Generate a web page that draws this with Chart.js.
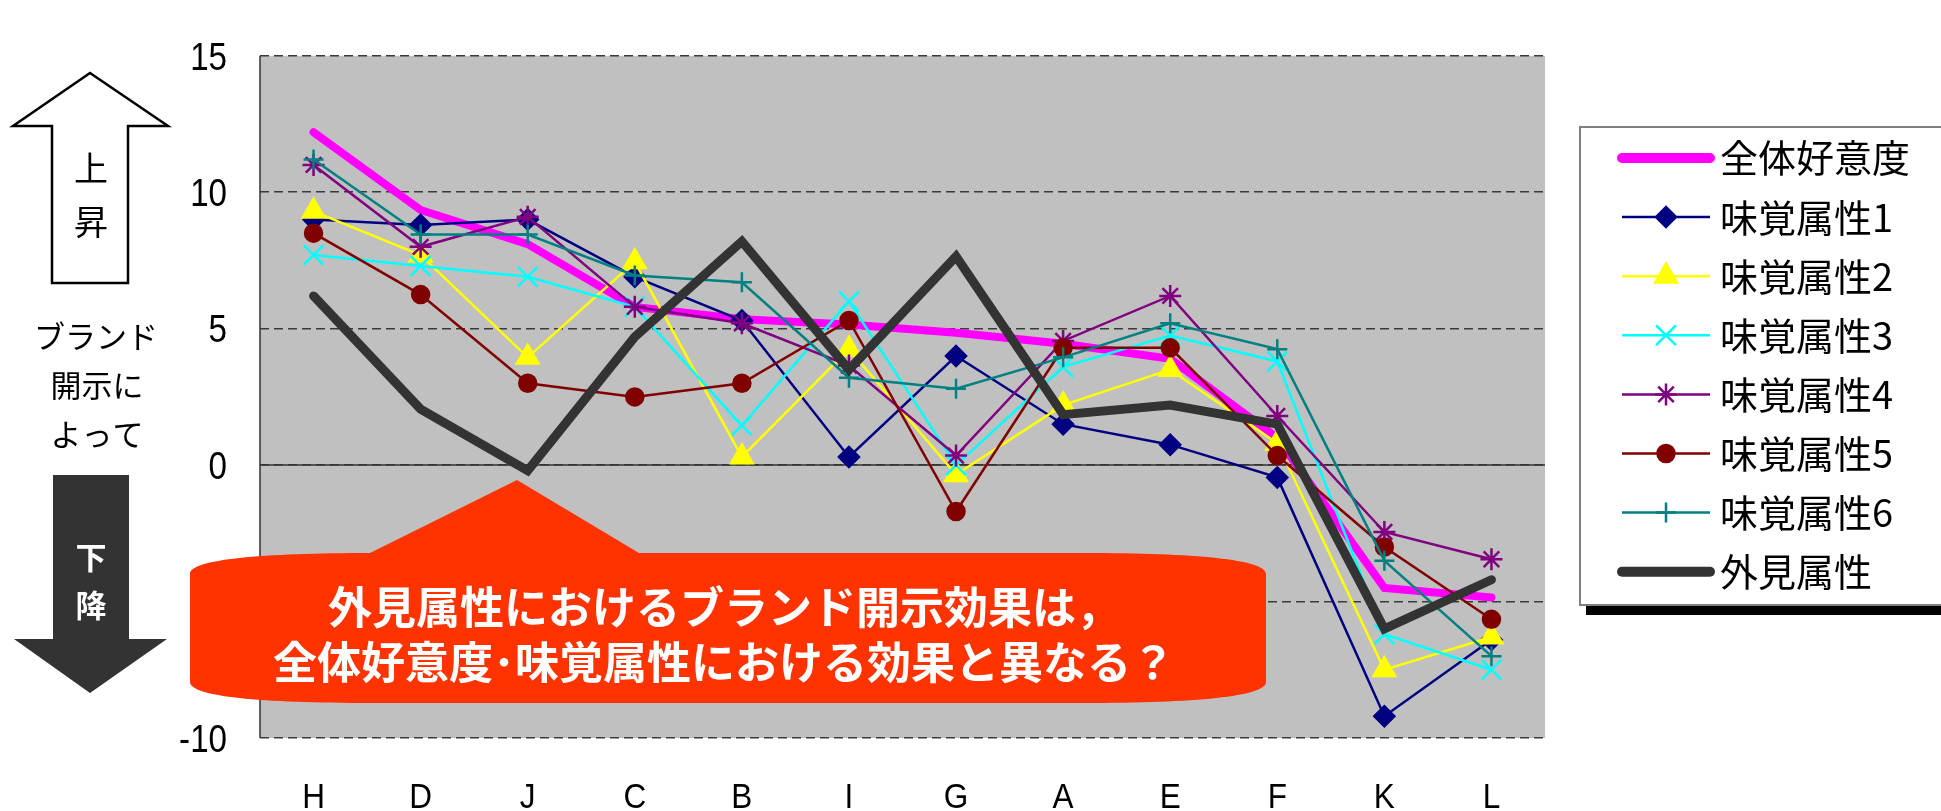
<!DOCTYPE html>
<html lang="ja">
<head>
<meta charset="utf-8">
<title>ブランド開示効果</title>
<script src="https://cdn.jsdelivr.net/npm/chart.js@4.4.1/dist/chart.umd.min.js"></script>
<style>
  html, body { margin: 0; padding: 0; background: #fff; }
  #wrap { width: 1941px; height: 811px; position: relative; }
</style>
</head>
<body>
<div id="wrap"><canvas id="chart" width="1941" height="811"></canvas></div>
<script>
// brands, ordered by overall liking change
const CATEGORIES = ['H', 'D', 'J', 'C', 'B', 'I', 'G', 'A', 'E', 'F', 'K', 'L'];

const OVERALL = [12.2, 9.35, 8.1, 5.8, 5.35, 5.15, 4.85, 4.45, 3.9, 1.0, -4.5, -4.85];
const TASTE_1 = [9.0, 8.8, 9.0, 6.9, 5.3, 0.3, 4.0, 1.5, 0.75, -0.45, -9.2, -6.4];
const TASTE_2 = [9.3, 7.7, 3.95, 7.45, 0.3, 4.25, -0.35, 2.2, 3.5, 0.8, -7.5, -6.3];
const TASTE_3 = [7.7, 7.3, 6.9, 5.8, 1.45, 6.0, 0.0, 3.6, 4.75, 3.8, -6.2, -7.5];
const TASTE_4 = [11.0, 8.0, 9.1, 5.8, 5.2, 3.65, 0.35, 4.55, 6.2, 1.8, -2.45, -3.45];
const TASTE_5 = [8.5, 6.25, 3.0, 2.5, 3.0, 5.3, -1.7, 4.3, 4.3, 0.35, -3.0, -5.65];
const TASTE_6 = [11.2, 8.45, 8.45, 6.95, 6.7, 3.2, 2.8, 3.95, 5.2, 4.25, -3.5, -7.0];
const APPEARANCE = [6.2, 2.05, -0.2, 4.7, 8.2, 3.5, 7.65, 1.85, 2.2, 1.5, -6.0, -4.2];

const Y_MIN = -10;
const Y_MAX = 15;
const Y_STEP = 5;

const NUM_FONT = '"Liberation Sans", Arial, sans-serif';
const JP_FONT = '"Noto Sans CJK JP", "Noto Sans", sans-serif';

// series look (Excel style markers)
const SERIES = [
    { label: '全体好意度', data: OVERALL, color: '#ff00ff', width: 8, marker: false },
    { label: '味覚属性1', data: TASTE_1, color: '#000080', width: 2.5, marker: 'rectRot', radius: 10 },
    { label: '味覚属性2', data: TASTE_2, color: '#ffff00', width: 2.5, marker: 'triangle', radius: 12.5 },
    { label: '味覚属性3', data: TASTE_3, color: '#00ffff', width: 2.5, marker: 'crossRot', radius: 14 },
    { label: '味覚属性4', data: TASTE_4, color: '#800080', width: 2.5, marker: 'star', radius: 11 },
    { label: '味覚属性5', data: TASTE_5, color: '#800000', width: 2.5, marker: 'circle', radius: 8.5 },
    { label: '味覚属性6', data: TASTE_6, color: '#008080', width: 2.5, marker: 'cross', radius: 10 },
    { label: '外見属性', data: APPEARANCE, color: '#333333', width: 9, marker: false }
];

const datasets = SERIES.map((s, i) => ({
    label: s.label,
    data: s.data,
    borderColor: s.color,
    backgroundColor: s.color,
    borderWidth: s.width,
    borderCapStyle: s.marker ? 'butt' : 'round',
    borderJoinStyle: 'miter',
    tension: 0,
    pointStyle: s.marker || 'circle',
    pointRadius: s.marker ? s.radius : 0,
    pointHoverRadius: s.marker ? s.radius : 0,
    pointBorderWidth: 2.5,
    pointBackgroundColor: s.color,
    pointBorderColor: s.color,
    // later series sit on top, like the spreadsheet
    order: SERIES.length - 1 - i
}));

function text(ctx, str, x, y, font, color) {
    ctx.font = font;
    ctx.fillStyle = color;
    ctx.textAlign = 'center';
    ctx.textBaseline = 'middle';
    ctx.fillText(str, x, y);
}

// narrow glyphs: squeeze the text horizontally around its anchor
function narrowText(ctx, str, x, y, sx, align) {
    ctx.save();
    ctx.translate(x, y);
    ctx.scale(sx, 1);
    ctx.textAlign = align;
    ctx.fillText(str, 0, 0);
    ctx.restore();
}

const plotBackground = {
    id: 'plotBackground',
    beforeDraw(chart) {
        const { ctx, chartArea: a } = chart;
        ctx.save();
        ctx.fillStyle = '#c0c0c0';
        ctx.fillRect(a.left, a.top, a.right - a.left, a.bottom - a.top);
        ctx.restore();
    },
    beforeDatasetsDraw(chart) {
        const { ctx, chartArea: a, scales } = chart;
        const y0 = scales.y.getPixelForValue(0);
        ctx.save();
        ctx.strokeStyle = '#333';
        ctx.lineWidth = 1.5;
        ctx.beginPath();
        ctx.moveTo(a.left, y0);
        ctx.lineTo(a.right, y0);
        ctx.moveTo(a.left, a.top);
        ctx.lineTo(a.left, a.bottom);
        ctx.stroke();
        ctx.restore();
    }
};

const tickLabels = {
    id: 'tickLabels',
    afterDatasetsDraw(chart) {
        const { ctx, scales: { x, y }, chartArea: a } = chart;
        ctx.save();
        ctx.fillStyle = '#000';
        ctx.textBaseline = 'middle';
        ctx.font = '39px ' + NUM_FONT;
        y.ticks.forEach((t, i) => {
            narrowText(ctx, t.label, a.left - 33, y.getPixelForTick(i) + 3, 0.85, 'right');
        });
        ctx.textBaseline = 'alphabetic';
        ctx.font = '35px ' + NUM_FONT;
        x.ticks.forEach((t, i) => {
            narrowText(ctx, x.getLabelForValue(t.value), x.getPixelForTick(i), 808, 0.9, 'center');
        });
        ctx.restore();
    }
};

function drawMarker(ctx, ds, x, y) {
    if (!ds.pointRadius) return;
    ctx.fillStyle = ds.pointBackgroundColor;
    ctx.strokeStyle = ds.pointBorderColor;
    ctx.lineWidth = ds.pointBorderWidth;
    Chart.helpers.drawPoint(ctx, {
        pointStyle: ds.pointStyle,
        radius: ds.pointRadius,
        rotation: 0,
        borderWidth: ds.pointBorderWidth
    }, x, y);
}

const boxLegend = {
    id: 'boxLegend',
    afterDraw(chart) {
        const ctx = chart.ctx;
        const left = 1580, top = 127, bottom = 605, right = 1950;
        ctx.save();
        ctx.fillStyle = '#000';
        ctx.fillRect(left + 6, bottom + 1, right - left, 9);
        ctx.fillStyle = '#fff';
        ctx.fillRect(left, top, right - left, bottom - top);
        ctx.strokeStyle = '#7f7f7f';
        ctx.lineWidth = 2;
        ctx.strokeRect(left, top, right - left, bottom - top);

        chart.data.datasets.forEach((ds, i) => {
            const y = 158 + i * 59.1;
            ctx.strokeStyle = ds.borderColor;
            ctx.lineWidth = ds.pointRadius ? ds.borderWidth : 10;
            ctx.lineCap = ds.borderCapStyle;
            ctx.beginPath();
            ctx.moveTo(1622, y);
            ctx.lineTo(1710, y);
            ctx.stroke();
            drawMarker(ctx, ds, 1666, y);
            ctx.font = '38px ' + JP_FONT;
            ctx.fillStyle = '#000';
            ctx.textAlign = 'left';
            ctx.textBaseline = 'middle';
            ctx.fillText(ds.label, 1720, y);
        });
        ctx.restore();
    }
};

const notes = {
    id: 'notes',
    afterDraw(chart) {
        const ctx = chart.ctx;
        ctx.save();

        // up arrow
        ctx.beginPath();
        ctx.moveTo(90, 73);
        ctx.lineTo(168, 126);
        ctx.lineTo(128, 126);
        ctx.lineTo(128, 283);
        ctx.lineTo(52, 283);
        ctx.lineTo(52, 126);
        ctx.lineTo(13, 126);
        ctx.closePath();
        ctx.fillStyle = '#fff';
        ctx.fill();
        ctx.strokeStyle = '#000';
        ctx.lineWidth = 2.5;
        ctx.lineJoin = 'miter';
        ctx.stroke();
        text(ctx, '上', 91, 168, '34px ' + JP_FONT, '#000');
        text(ctx, '昇', 91, 222, '34px ' + JP_FONT, '#000');

        text(ctx, 'ブランド', 96, 336, '31px ' + JP_FONT, '#000');
        text(ctx, '開示に', 97, 385, '31px ' + JP_FONT, '#000');
        text(ctx, 'よって', 97, 434, '31px ' + JP_FONT, '#000');

        // down arrow
        ctx.beginPath();
        ctx.moveTo(53, 475);
        ctx.lineTo(129, 475);
        ctx.lineTo(129, 639);
        ctx.lineTo(167, 639);
        ctx.lineTo(90, 693);
        ctx.lineTo(14, 639);
        ctx.lineTo(53, 639);
        ctx.closePath();
        ctx.fillStyle = '#333';
        ctx.fill();
        text(ctx, '下', 91, 557, 'bold 31px ' + JP_FONT, '#fff');
        text(ctx, '降', 91, 605, 'bold 31px ' + JP_FONT, '#fff');

        // callout balloon
        const L = 190, R = 1266, T = 553, B = 703, rx = 180, ry = 21;
        ctx.beginPath();
        ctx.moveTo(L, T + ry);
        ctx.bezierCurveTo(L, T + ry * 0.3, L + rx * 0.4, T, L + rx, T);
        ctx.lineTo(517, 480);
        ctx.lineTo(639, T);
        ctx.lineTo(R - rx, T);
        ctx.bezierCurveTo(R - rx * 0.4, T, R, T + ry * 0.3, R, T + ry);
        ctx.lineTo(R, B - ry);
        ctx.bezierCurveTo(R, B - ry * 0.3, R - rx * 0.4, B, R - rx, B);
        ctx.lineTo(L + rx, B);
        ctx.bezierCurveTo(L + rx * 0.4, B, L, B - ry * 0.3, L, B - ry);
        ctx.closePath();
        ctx.fillStyle = '#ff3300';
        ctx.fill();
        text(ctx, '外見属性におけるブランド開示効果は，', 724, 607, 'bold 44px ' + JP_FONT, '#fff');
        text(ctx, '全体好意度･味覚属性における効果と異なる？', 724, 662, 'bold 44px ' + JP_FONT, '#fff');

        ctx.restore();
    }
};

new Chart(document.getElementById('chart'), {
    type: 'line',
    data: { labels: CATEGORIES, datasets },
    options: {
        responsive: false,
        animation: false,
        events: [],
        layout: { padding: { left: 160, top: 22, right: 396, bottom: 0 } },
        plugins: { legend: { display: false }, tooltip: { enabled: false } },
        scales: {
            x: {
                offset: true,
                grid: { display: false, drawTicks: false },
                border: { display: false },
                // labels are drawn narrow by the tickLabels plugin
                ticks: { color: 'rgba(0,0,0,0)', padding: 38, font: { family: NUM_FONT, size: 35 } },
                afterFit(scale) { scale.height = 73; }
            },
            y: {
                min: Y_MIN,
                max: Y_MAX,
                ticks: { stepSize: Y_STEP, color: 'rgba(0,0,0,0)', padding: 33, font: { family: NUM_FONT, size: 38 } },
                grid: { color: '#3a3a3a', lineWidth: 1.5, drawTicks: false },
                border: { display: false, dash: [9, 5] },
                afterFit(scale) { scale.width = 100; }
            }
        }
    },
    plugins: [plotBackground, tickLabels, boxLegend, notes]
});
</script>
</body>
</html>
